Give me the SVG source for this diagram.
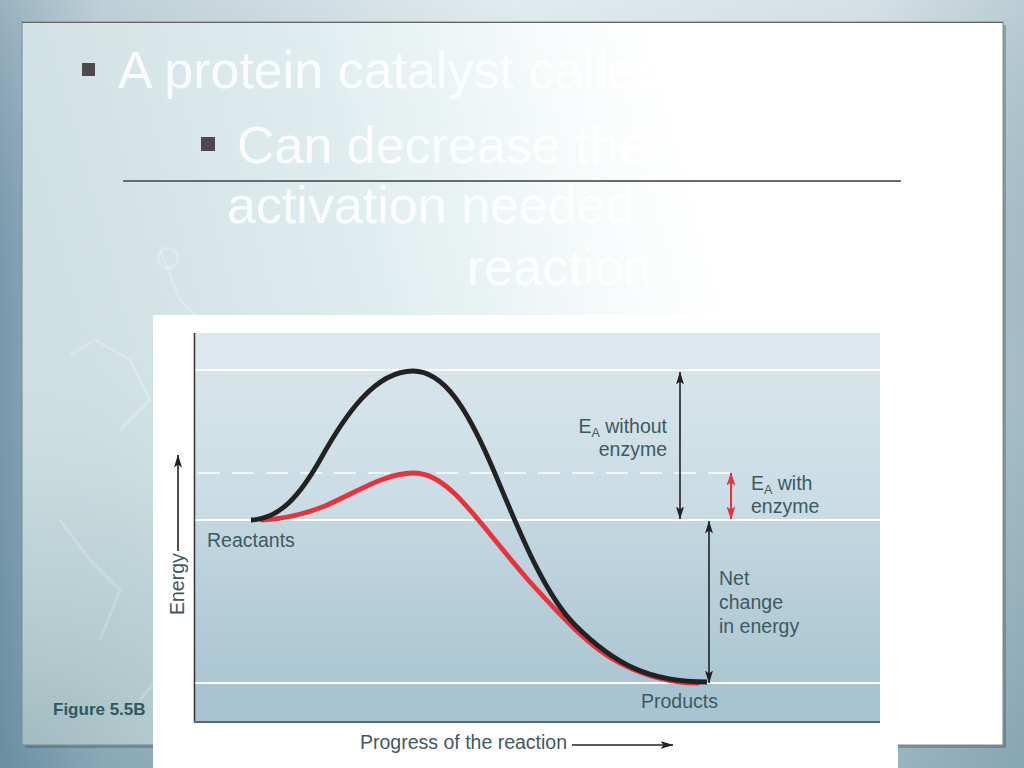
<svg xmlns="http://www.w3.org/2000/svg" width="1024" height="768" viewBox="0 0 1024 768">
  <defs>
    <linearGradient id="bgH" x1="0" y1="0" x2="1" y2="0">
      <stop offset="0" stop-color="#7898ab"/>
      <stop offset="0.1" stop-color="#a9c0ca"/>
      <stop offset="0.5" stop-color="#d8e5e8"/>
      <stop offset="0.85" stop-color="#c6d6dc"/>
      <stop offset="1" stop-color="#a5bcc6"/>
    </linearGradient>
    <linearGradient id="bgV" x1="0" y1="0" x2="0" y2="1">
      <stop offset="0" stop-color="#ffffff" stop-opacity="0.25"/>
      <stop offset="0.5" stop-color="#5f8599" stop-opacity="0"/>
      <stop offset="1" stop-color="#4f7a90" stop-opacity="0.35"/>
    </linearGradient>
    <linearGradient id="panelG" x1="0" y1="0.2" x2="1" y2="0">
      <stop offset="0" stop-color="#cfe0e2"/>
      <stop offset="0.3" stop-color="#deecee"/>
      <stop offset="0.45" stop-color="#edf5f6"/>
      <stop offset="0.58" stop-color="#fafdfd"/>
      <stop offset="0.66" stop-color="#ffffff"/>
    </linearGradient>
    <radialGradient id="panelShade" cx="0" cy="1" r="0.55">
      <stop offset="0" stop-color="#93afb5" stop-opacity="0.75"/>
      <stop offset="0.6" stop-color="#a9c3c7" stop-opacity="0.3"/>
      <stop offset="1" stop-color="#c9dcdf" stop-opacity="0"/>
    </radialGradient>
    <linearGradient id="band2" x1="0" y1="0" x2="0" y2="1">
      <stop offset="0" stop-color="#d7e5eb"/>
      <stop offset="1" stop-color="#c8dbe3"/>
    </linearGradient>
    <linearGradient id="band3" x1="0" y1="0" x2="0" y2="1">
      <stop offset="0" stop-color="#c3d7e0"/>
      <stop offset="1" stop-color="#abc6d3"/>
    </linearGradient>
    <marker id="ahK" viewBox="0 0 13 8" refX="12.5" refY="4" markerWidth="13" markerHeight="8" markerUnits="userSpaceOnUse" orient="auto-start-reverse">
      <path d="M0,0 L13,4 L0,8 L3,4 z" fill="#222"/>
    </marker>
    <marker id="ahR" viewBox="0 0 13 9" refX="12.5" refY="4.5" markerWidth="13" markerHeight="9" markerUnits="userSpaceOnUse" orient="auto-start-reverse">
      <path d="M0,0 L13,4.5 L0,9 L3,4.5 z" fill="#e8323c"/>
    </marker>
    <style>
      .title { font-family: "Liberation Sans", Arial, sans-serif; font-size: 52px; fill: #ffffff; fill-opacity: 0.85; }
      .lbl { font-family: "Liberation Sans", Arial, sans-serif; font-size: 19.5px; fill: #3d5a60; }
      .sub { font-size: 12.5px; }
      .fig { font-family: "Liberation Sans", Arial, sans-serif; font-size: 17px; font-weight: bold; fill: #2f5a62; }
      .band { stroke: #ffffff; stroke-width: 2; }
      .dbl { stroke: #222; stroke-width: 1.6; fill: none; }
      .deco { stroke: #ffffff; stroke-opacity: 0.2; stroke-width: 3; fill: none; }
    </style>
  </defs>

  <!-- slide background -->
  <rect x="0" y="0" width="1024" height="768" fill="url(#bgH)"/>
  <rect x="0" y="0" width="1024" height="768" fill="url(#bgV)"/>
  <rect x="25" y="25" width="981" height="723" fill="#3c4a52" opacity="0.35"/>
  <rect x="22" y="22" width="981" height="723" fill="url(#panelG)"/>
  <rect x="22" y="22" width="981" height="723" fill="url(#panelShade)"/>
  <rect x="22" y="22" width="981" height="723" fill="none" stroke="#7a8a90" stroke-width="1"/>
  <line x1="22" y1="22.5" x2="1003" y2="22.5" stroke="#666" stroke-width="1.2"/>

  <!-- faint molecular decoration -->
  <path class="deco" d="M70,355 L95,340 L130,360 L150,400 L120,430 M60,520 L90,560 L120,590 L100,640 M160,250 L180,300 L200,320 M140,700 L180,650"/>
  <circle class="deco" cx="168" cy="258" r="10"/>

  <!-- slide text (white on white) -->
  <g id="bullet1">
    <rect x="82" y="63" width="13" height="13" fill="#4b4b4b"/>
    <text class="title" x="118" y="88">A protein catalyst called</text>
  </g>
  <g id="bullet2">
    <rect x="201" y="137" width="14" height="14" fill="#4b4b4b"/>
    <text class="title" x="237" y="163">Can decrease the</text>
    <text class="title" x="227" y="223">activation needed</text>
    <text class="title" x="467" y="285">reaction</text>
  </g>
  <line x1="123" y1="181" x2="901" y2="181" stroke="#6b6b6b" stroke-width="2"/>

  <text class="fig" x="53" y="715">Figure 5.5B</text>

  <!-- figure image -->
  <g id="figure">
    <rect x="153" y="315" width="745" height="453" fill="#ffffff"/>
    <rect x="194" y="333" width="686" height="37" fill="#dce8ed"/>
    <rect x="194" y="370" width="686" height="150" fill="url(#band2)"/>
    <rect x="194" y="520" width="686" height="163" fill="url(#band3)"/>
    <rect x="194" y="683" width="686" height="39" fill="#a8c3d1"/>
    <line class="band" x1="194" y1="370" x2="880" y2="370"/>
    <line class="band" x1="194" y1="520" x2="880" y2="520"/>
    <line class="band" x1="194" y1="683" x2="880" y2="683"/>
    <line x1="198" y1="473" x2="733" y2="473" stroke="#ffffff" stroke-width="1.6" stroke-dasharray="22,12"/>
    <line x1="194.5" y1="333" x2="194.5" y2="722" stroke="#333" stroke-width="1.5"/>
    <line x1="194" y1="722" x2="880" y2="722" stroke="#5a6a70" stroke-width="2"/>
  </g>

  <g id="curves">
    <path id="curve-with" d="M262,520 C285,519 305,514 325,506 C355,493 385,473 413,473 C428,473 440,480 455,494 C475,513 500,548 530,582 C560,615 590,648 620,663 C645,676 670,683 698,683" fill="none" stroke="#e8323c" stroke-width="4.8" stroke-linecap="round"/>
    <path id="curve-without" d="M251,520 C280,519 300,495 320,460 C345,415 375,371 413,371 C445,371 468,412 490,462 C512,512 540,590 575,625 C615,665 650,682 707,682" fill="none" stroke="#222222" stroke-width="4.8"/>
  </g>

  <g id="connectors">
    <line class="dbl" x1="680" y1="372" x2="680" y2="519" marker-start="url(#ahK)" marker-end="url(#ahK)"/>
    <line x1="731" y1="473" x2="731" y2="519" stroke="#e8323c" stroke-width="2" marker-start="url(#ahR)" marker-end="url(#ahR)"/>
    <line class="dbl" x1="709" y1="521" x2="709" y2="683" marker-start="url(#ahK)" marker-end="url(#ahK)"/>
    <line class="dbl" x1="178" y1="551" x2="178" y2="455" marker-end="url(#ahK)"/>
    <line class="dbl" x1="572" y1="745" x2="673" y2="745" marker-end="url(#ahK)"/>
  </g>

  <g id="labels">
    <text class="lbl" x="207" y="547">Reactants</text>
    <text class="lbl" x="641" y="708">Products</text>
    <g id="ea-without">
      <text class="lbl" x="667" y="433" text-anchor="end">E<tspan class="sub" dy="4">A</tspan><tspan dy="-4"> without</tspan></text>
      <text class="lbl" x="667" y="456" text-anchor="end">enzyme</text>
    </g>
    <g id="ea-with">
      <text class="lbl" x="751" y="490">E<tspan class="sub" dy="4">A</tspan><tspan dy="-4"> with</tspan></text>
      <text class="lbl" x="751" y="513">enzyme</text>
    </g>
    <g id="net">
      <text class="lbl" x="719" y="585">Net</text>
      <text class="lbl" x="719" y="609">change</text>
      <text class="lbl" x="719" y="633">in energy</text>
    </g>
    <text class="lbl" transform="translate(184,615) rotate(-90)" x="0" y="0">Energy</text>
    <text class="lbl" x="360" y="749">Progress of the reaction</text>
  </g>
</svg>
